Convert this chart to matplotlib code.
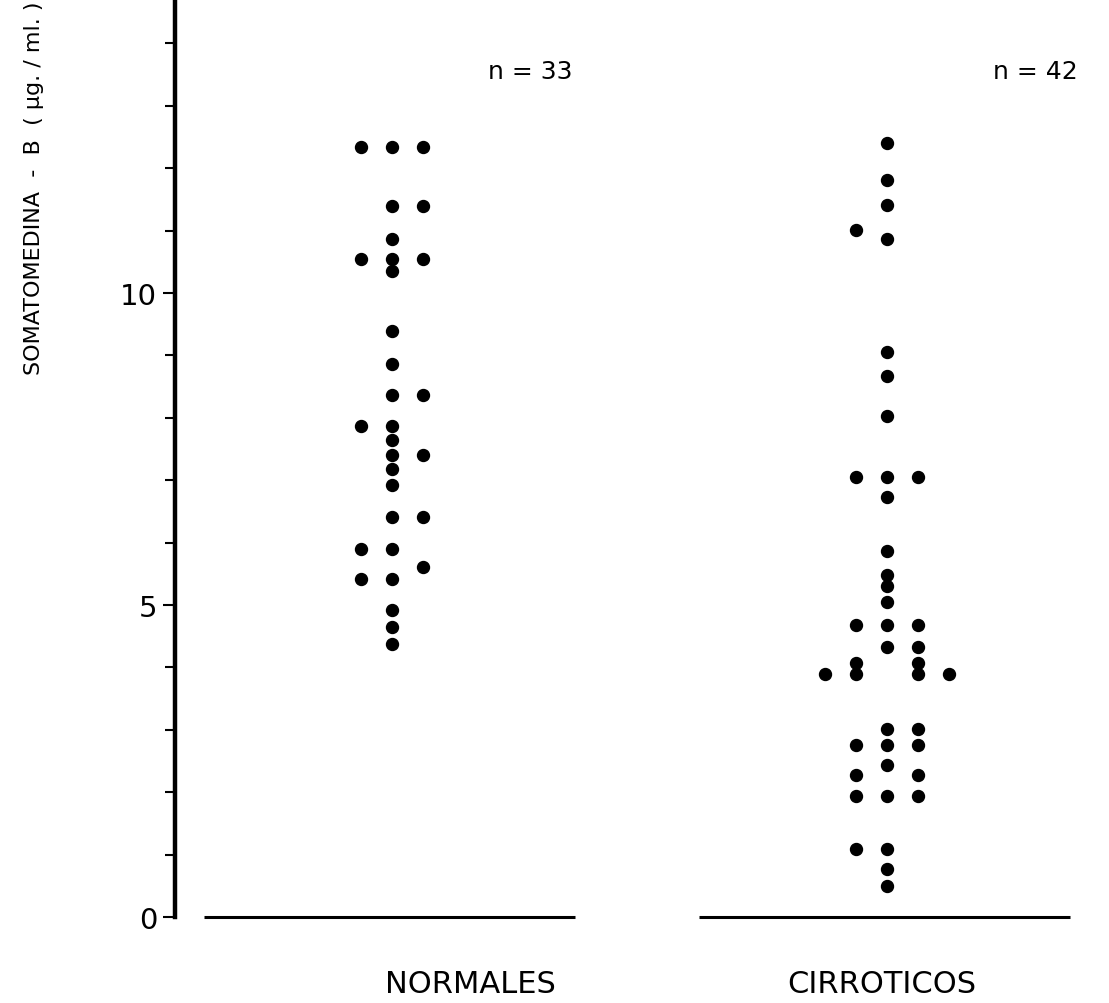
import numpy as np
import matplotlib
matplotlib.use("Agg")
import matplotlib.pyplot as plt

# Somatomedina-B (ug/ml); col = columna del punto dentro del grupo
normales_vals = [12.34, 12.34, 12.34, 11.4, 11.4, 10.87, 10.54, 10.54, 10.54, 10.35,
                 9.39, 8.86, 8.37, 8.37, 7.87, 7.87, 7.64, 7.40, 7.40, 7.18,
                 6.92, 6.41, 6.41, 5.90, 5.90, 5.61, 5.42, 5.42, 4.92, 4.65, 4.37]
normales_col = [-1, 0, 1, 0, 1, 0, -1, 0, 1, 0,
                0, 0, 0, 1, -1, 0, 0, 0, 1, 0,
                0, 0, 1, -1, 0, 1, -1, 0, 0, 0, 0]

cirroticos_vals = [12.40, 11.81, 11.41, 11.01, 10.87, 9.05, 8.67, 8.03,
                   7.05, 7.05, 7.05, 6.73, 5.87, 5.48, 5.30, 5.05,
                   4.68, 4.68, 4.68, 4.33, 4.33, 4.07, 4.07,
                   3.89, 3.89, 3.89, 3.89, 3.01, 3.01, 2.76, 2.76, 2.76,
                   2.44, 2.28, 2.28, 1.94, 1.94, 1.94, 1.09, 1.09, 0.77, 0.50]
cirroticos_col = [0, 0, 0, -1, 0, 0, 0, 0,
                  -1, 0, 1, 0, 0, 0, 0, 0,
                  -1, 0, 1, 0, 1, -1, 1,
                  -2, -1, 1, 2, 0, 1, -1, 0, 1,
                  0, -1, 1, -1, 0, 1, -1, 0, 0, 0]

grupos = ["NORMALES", "CIRROTICOS"]
n_txt = ["n = 33", "n = 42"]

fig = plt.figure(figsize=(11.09, 10.04), dpi=100)
ax = fig.add_axes([0.158, 0.0857, 0.842, 0.9143])

paso = 0.0626
for i, (vals, cols) in enumerate([(normales_vals, normales_col),
                                  (cirroticos_vals, cirroticos_col)]):
    x0 = i + 1
    xs = x0 + np.array(cols) * paso
    ax.plot(xs, vals, "o", color="black", markersize=8.6, clip_on=False)
    ax.hlines(0, x0 - 0.38, x0 + 0.37, color="black", linewidth=2.2, clip_on=False)

ax.text(1.279, 13.56, n_txt[0], fontsize=18, ha="center", va="center")
ax.text(2.30, 13.56, n_txt[1], fontsize=18, ha="center", va="center")

tr = ax.get_xaxis_transform()
ax.text(1.158, -0.073, grupos[0], fontsize=22, ha="center", va="center", transform=tr)
ax.text(1.99, -0.073, grupos[1], fontsize=22, ha="center", va="center", transform=tr)

ax.set_xlim(0.562, 2.448)
ax.set_ylim(0, 14.71)
ax.set_yticks([0, 5, 10])
ax.set_yticks(np.arange(0, 15, 1), minor=True)
ax.tick_params(axis="y", which="both", direction="out", width=1.5, labelsize=21, pad=4)
ax.tick_params(axis="y", which="major", length=9)
ax.tick_params(axis="y", which="minor", length=7)
ax.set_xticks([])

for s in ["top", "right", "bottom"]:
    ax.spines[s].set_visible(False)
ax.spines["left"].set_linewidth(3.2)

ax.set_ylabel("SOMATOMEDINA  -  B  ( μg. / ml. )", fontsize=16)
ax.yaxis.set_label_coords(-0.14, 0.795)

fig.savefig("out.png", dpi=100)
